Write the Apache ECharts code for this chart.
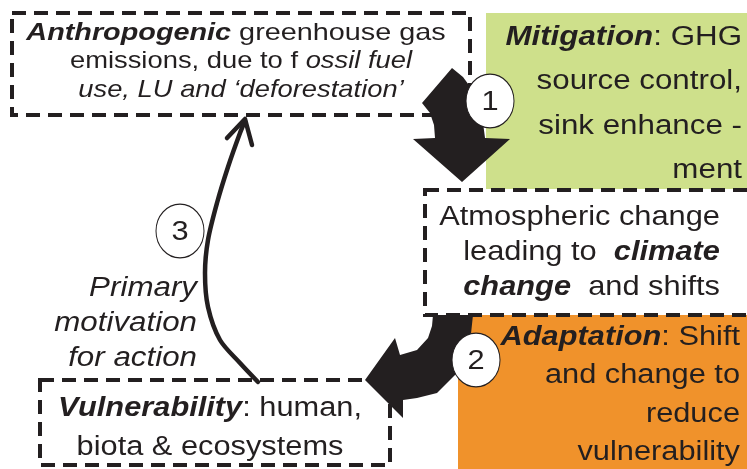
<!DOCTYPE html>
<html>
<head>
<meta charset="utf-8">
<script src="https://cdn.jsdelivr.net/npm/echarts@6/dist/echarts.min.js"></script>
<style>
  html, body { margin: 0; padding: 0; background: #fff; }
  #chart { width: 747px; height: 469px; }
</style>
</head>
<body>
<div id="chart"></div>
<script>
// box texts, {bi|..} = bold italic, {i|..} = italic
let anthropogenicLines = ['{bi|Anthropogenic} greenhouse gas', 'emissions, due to f {i|ossil fuel}', '{i|use, LU and ‘deforestation’}'];
let mitigationLines = ['{bi|Mitigation}: GHG', 'source control,', 'sink enhance -', 'ment'];
let atmosphereLines = ['Atmospheric change', 'leading to  {bi|climate}', '{bi|change}  and shifts'];
let adaptationLines = ['{bi|Adaptation}: Shift', 'and change to', 'reduce', 'vulnerability'];
let motivationLines = ['{i|Primary}', '{i|motivation}', '{i|for action}'];
let vulnerabilityLines = ['{bi|Vulnerability}: human,', 'biota & ecosystems'];
let stepNumbers = ['1', '2', '3'];

let ink = '#231f20';
let font = 'Liberation Sans, Arial, sans-serif';

let textBlock = (lines, x, y, align, size, lh, sx) => {
    let base = { fontSize: size, fontFamily: font, lineHeight: lh, fill: ink };
    return {
        type: 'text', x: x, y: y, scaleX: sx, z: 10,
        style: Object.assign({
            text: lines.join('\n'),
            align: align,
            verticalAlign: 'middle',
            rich: {
                bi: Object.assign({ fontWeight: 'bold', fontStyle: 'italic' }, base),
                i: Object.assign({ fontStyle: 'italic' }, base)
            }
        }, base)
    };
};

let dashed = { fill: null, stroke: ink, lineWidth: 4, lineDash: [14, 8] };

let badge = (label, cx, cy, lw) => [
    { type: 'circle', x: cx, y: cy, scaleY: 1.12, z: 8, shape: { cx: 0, cy: 0, r: 24 }, style: { fill: '#fff', stroke: ink, lineWidth: lw } },
    { type: 'text', x: cx, y: cy + 1, scaleX: 1.1, z: 9, style: { text: label, fontSize: 28, fontFamily: font, fill: ink, align: 'center', verticalAlign: 'middle' } }
];

let elements = [
    // coloured panels
    { type: 'rect', shape: { x: 486, y: 13, width: 261, height: 176 }, style: { fill: '#cee08b' } },
    { type: 'rect', shape: { x: 458, y: 315, width: 289, height: 154 }, style: { fill: '#f0922b' } },
    // dashed boxes
    { type: 'rect', z: 2, shape: { x: 12, y: 13, width: 458, height: 102 }, style: dashed },
    { type: 'rect', z: 2, shape: { x: 425, y: 190, width: 340, height: 125 }, style: dashed },
    { type: 'rect', z: 2, shape: { x: 40, y: 380, width: 350, height: 85 }, style: dashed },
    // arrow 1
    { type: 'polygon', z: 5, shape: { points: [[452, 68], [422, 103], [430, 113], [434, 125], [435, 138], [413, 139], [462, 182], [510, 139], [485, 138], [482, 115], [474, 92], [463, 77]] }, style: { fill: ink } },
    // arrow 2
    { type: 'polygon', z: 5, shape: { points: [[433, 315], [473, 315], [470, 343], [457, 373], [437, 393], [417, 398], [403, 400], [403, 418], [365, 380], [395, 338], [400, 355], [417, 350], [428, 338], [432, 326]] }, style: { fill: ink } },
    // arrow 3
    { type: 'polyline', z: 5, shape: { points: [[258, 382], [240, 363], [220, 340], [208, 307], [205, 273], [208, 240], [217, 203], [228, 167], [240, 133], [245, 121]], smooth: 0.3 }, style: { fill: null, stroke: ink, lineWidth: 4.5, lineCap: 'round' } },
    { type: 'polyline', z: 5, shape: { points: [[227, 138], [245, 119], [252, 145]] }, style: { fill: null, stroke: ink, lineWidth: 4.5, lineCap: 'round', lineJoin: 'round' } },
    ...badge(stepNumbers[0], 490, 101, 1),
    ...badge(stepNumbers[1], 476, 360, 1),
    ...badge(stepNumbers[2], 180, 231, 1),
    // texts
    textBlock(anthropogenicLines.slice(0, 1), 236, 33, 'center', 24, 28.5, 1.2),
    textBlock(anthropogenicLines.slice(1), 241, 76, 'center', 24, 28.5, 1.14),
    textBlock(mitigationLines, 742, 104, 'right', 27, 44.3, 1.16),
    textBlock(atmosphereLines, 720, 252, 'right', 27.5, 35, 1.12),
    textBlock(adaptationLines, 740, 395, 'right', 27, 38.3, 1.14),
    textBlock(motivationLines, 197, 323, 'right', 27, 35, 1.16),
    textBlock(vulnerabilityLines, 210, 428, 'center', 27, 39, 1.14)
];

let mychart = echarts.init(document.getElementById('chart'), null, { renderer: 'canvas' });
mychart.setOption({
    backgroundColor: '#fff',
    animation: false,
    graphic: { elements: elements }
});
</script>
</body>
</html>
